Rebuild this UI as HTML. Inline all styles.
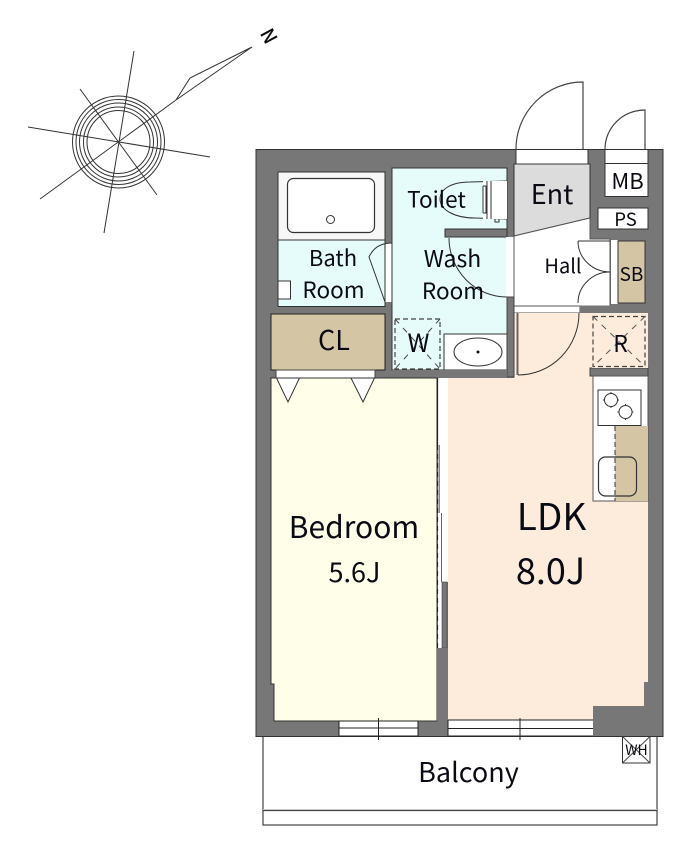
<!DOCTYPE html>
<html><head><meta charset="utf-8"><style>
html,body{margin:0;padding:0;background:#fff}
svg{display:block}
text{font-family:"Noto Sans CJK JP","Liberation Sans",sans-serif;fill:#0a0a14;text-anchor:middle}
</style></head><body>
<svg width="700" height="858" viewBox="0 0 700 858" xmlns="http://www.w3.org/2000/svg">
<rect width="700" height="858" fill="#fff"/>
<!-- compass -->
<g fill="none" stroke="#333" stroke-width="1">
<circle cx="118.500" cy="142" r="46"/><circle cx="118.500" cy="142" r="42.500"/><circle cx="118.500" cy="142" r="39"/><circle cx="118.500" cy="142" r="35"/><circle cx="118.500" cy="142" r="31.500"/>
<path d="M134 51L104 233M28 127L210 157M40 199L176 100M80 89L157 195"/>
<path d="M176 100L190 78L252 47L176 100"/>
</g>
<text transform="translate(269,36) rotate(62)" x="0" y="7" font-size="19" font-weight="500">N</text>
<!-- door swings outside -->
<g fill="none" stroke="#444" stroke-width="1.200">
<path d="M516 149A67 67 0 0 1 583 82V149"/>
<path d="M605 149A40 39 0 0 1 645 110V149"/>
</g>
<!-- balcony -->
<rect x="263" y="736" width="394" height="89" fill="#fff" stroke="#444" stroke-width="1.200"/>
<path d="M263 809.500H657" stroke="#ddd" stroke-width="1"/>
<path d="M263 810.500H657" stroke="#444" stroke-width="1.200"/>
<!-- walls -->
<rect x="256" y="149.500" width="407" height="587" fill="#777" stroke="#333" stroke-width="1"/>
<!-- bath -->
<rect x="278" y="172" width="107" height="68" fill="#f7f7f7" stroke="#333"/>
<rect x="278" y="240" width="107" height="66.500" fill="#e6fcfa" stroke="#333"/>
<rect x="287.500" y="178.500" width="87" height="54" rx="6" fill="#fff" stroke="#333" stroke-width="1.200"/>
<circle cx="330.500" cy="219.500" r="4" fill="#fff" stroke="#333"/>
<rect x="278" y="281" width="12.500" height="18" fill="#fff" stroke="#333"/>
<rect x="385" y="243" width="7" height="59" fill="#fff"/>
<path d="M392 243C380 243 373 248 369 257L385 302V243" fill="none" stroke="#333"/>
<!-- toilet + wash (one open room) -->
<rect x="392" y="168" width="115" height="202" fill="#e6fcfa" stroke="#333"/>
<path d="M507 181L470 182C450 182 440 190 440 199C440 210 455 218 475 218L507 219" fill="none" stroke="#333"/>
<rect x="483" y="181" width="24" height="38" fill="#fff"/>
<path d="M487 181V219M491 181V219M483 186V213M486 186V213M483 186H487M483 213H487M495 219V222H499V219" fill="none" stroke="#333"/>
<rect x="445" y="229" width="62" height="8" fill="#777" stroke="#333" stroke-width="1"/>
<rect x="506" y="237" width="8" height="60" fill="#fff"/>
<path d="M449 238A58 59 0 0 0 507 297" fill="none" stroke="#333"/>
<rect x="395" y="319" width="45" height="50" fill="none" stroke="#444" stroke-width="1.200" stroke-dasharray="5 3"/>
<path d="M395 319L440 369M440 319L395 369" fill="none" stroke="#444" stroke-dasharray="6 6"/>
<rect x="444" y="334" width="63" height="36" fill="#fff" stroke="#333"/>
<ellipse cx="478" cy="352" rx="24" ry="14" fill="#fff" stroke="#333"/>
<circle cx="478" cy="352" r="1.500" fill="#111"/>
<!-- entry -->
<rect x="516" y="149.500" width="72" height="14.500" fill="#fff" stroke="#333"/>
<path d="M514 164H590V218L514 236Z" fill="#dcdcdc" stroke="#333"/>
<path d="M514 236L590 218V239H610V306H514Z" fill="#fff"/>
<path d="M514 236V306M590 218V239H610V306H514M514 236L590 218" fill="none" stroke="#555"/>
<rect x="514" y="306" width="66" height="7" fill="#fff" stroke="#555"/>
<rect x="611" y="240" width="7" height="64" fill="#fff"/>
<rect x="618" y="241" width="27" height="62" fill="#d4c5a5" stroke="#333"/>
<path d="M578 241H610M578 241A32 31 0 0 0 610 272A32 31 0 0 0 578 303" fill="none" stroke="#333"/>
<!-- MB PS -->
<rect x="605" y="149.500" width="43" height="14" fill="#fff" stroke="#333"/>
<rect x="605" y="163.500" width="43" height="33" fill="#fff" stroke="#333"/>
<rect x="598" y="208" width="50" height="21" fill="#fff" stroke="#333"/>
<!-- closet -->
<rect x="271" y="314" width="114" height="56" fill="#d4c5a5" stroke="#222"/>
<rect x="276" y="370" width="99" height="8" fill="#fff" stroke="#444"/>
<!-- bedroom -->
<path d="M271 378H437V721H274V684H271Z" fill="#fffee8" stroke="#333"/>
<path d="M276.500 378L288 402L299.500 378ZM351 378L363 402L374.500 378Z" fill="#fff" stroke="#333"/>
<!-- LDK -->
<path d="M514 313H592V368H590V376H593V501H648V682H644V706H593V720H448V378H514Z" fill="#fdecdb"/>
<rect x="514" y="313" width="78" height="65" fill="#fdecdb"/>
<rect x="507" y="297" width="7" height="80" fill="#777" stroke="#444"/>
<path d="M392 370H507V377.500H392Z" fill="#777"/>
<path d="M517.500 313V375" stroke="#666" stroke-width="2"/>
<path d="M579 313A61 62 0 0 1 518 375" fill="none" stroke="#333"/>
<rect x="580" y="305.500" width="68" height="7.500" fill="#777"/>
<rect x="590" y="368" width="58" height="8" fill="#777" stroke="#444"/>
<rect x="592" y="313" width="56" height="55" fill="#fdecdb"/>
<rect x="593" y="316.500" width="52" height="50" fill="none" stroke="#444" stroke-width="1.200" stroke-dasharray="5 3"/>
<path d="M593 316.500L645 366.500M645 316.500L593 366.500" fill="none" stroke="#555" stroke-dasharray="6 6"/>
<!-- kitchen -->
<rect x="593" y="376" width="55" height="125" fill="#fff" stroke="#555"/>
<rect x="615" y="426" width="33" height="75" fill="#d4c5a5"/>
<rect x="598" y="390" width="43" height="35.500" fill="#fff" stroke="#333"/>
<circle cx="611" cy="400" r="6.500" fill="none" stroke="#333"/>
<circle cx="625.500" cy="412" r="6.500" fill="none" stroke="#333"/>
<path d="M611 392V408M603 400H619M625.500 404V420M617.500 412H633.500" stroke="#333" stroke-dasharray="2 12" fill="none"/>
<path d="M615 426V501" stroke="#333" stroke-dasharray="5 3"/>
<rect x="598.500" y="457" width="38" height="39" rx="7" fill="none" stroke="#333" stroke-width="1.200"/>
<!-- partition bedroom / LDK -->
<rect x="438" y="378" width="10" height="204" fill="#fff"/>
<rect x="438" y="582" width="4" height="66" fill="#fff"/>
<path d="M437.500 378V445" stroke="#222" stroke-width="1.200"/>
<path d="M437.500 445V648" stroke="#222" stroke-width="1.200" stroke-dasharray="5 4"/>
<rect x="438.500" y="445" width="1.500" height="68" fill="#888"/>
<path d="M441.500 513V582" stroke="#666"/>
<rect x="442" y="582" width="5" height="66" fill="#777" stroke="#444" stroke-width=".6"/>
<rect x="437" y="648" width="10" height="73" fill="#777"/>
<!-- windows -->
<rect x="339" y="721" width="79" height="15" fill="#fff"/>
<path d="M339 721H418M339 728H418M339 736H418M339 721V736M418 721V736" stroke="#222" fill="none"/>
<path d="M378.500 718V740" stroke="#222"/>
<rect x="448" y="720" width="145" height="16" fill="#fff"/>
<path d="M448 720H593M448 728.500H593M448 736H593M448 720V736" stroke="#222" fill="none"/>
<path d="M520 718V740" stroke="#222"/>
<!-- WH -->
<rect x="622.500" y="736.500" width="27.500" height="26.500" fill="#fff" stroke="#333"/>
<path d="M622.500 736.500L650 763M650 736.500L622.500 763" stroke="#444"/>
<!-- labels -->
<text x="436.500" y="207.500" font-size="22.500">Toilet</text>
<text x="333" y="266" font-size="22">Bath</text>
<text x="333.500" y="298" font-size="22.500">Room</text>
<text x="452.500" y="267" font-size="23">Wash</text>
<text x="453" y="299" font-size="22.500">Room</text>
<text x="552" y="204" font-size="27">Ent</text>
<text x="627.500" y="189" font-size="22">MB</text>
<text x="625.500" y="226" font-size="18.500">PS</text>
<text x="563" y="273" font-size="20">Hall</text>
<text x="631.500" y="281" font-size="19">SB</text>
<text x="334" y="350" font-size="27">CL</text>
<text x="418.500" y="352" font-size="25">W</text>
<text x="620.500" y="352" font-size="23">R</text>
<text x="354" y="538" font-size="30">Bedroom</text>
<text x="354.500" y="582" font-size="27">5.6J</text>
<text x="551.500" y="530" font-size="37">LDK</text>
<text x="550.500" y="584" font-size="36">8.0J</text>
<text x="468.500" y="782" font-size="27">Balcony</text>
<text x="636.500" y="755" font-size="14">WH</text>
</svg>
</body></html>
